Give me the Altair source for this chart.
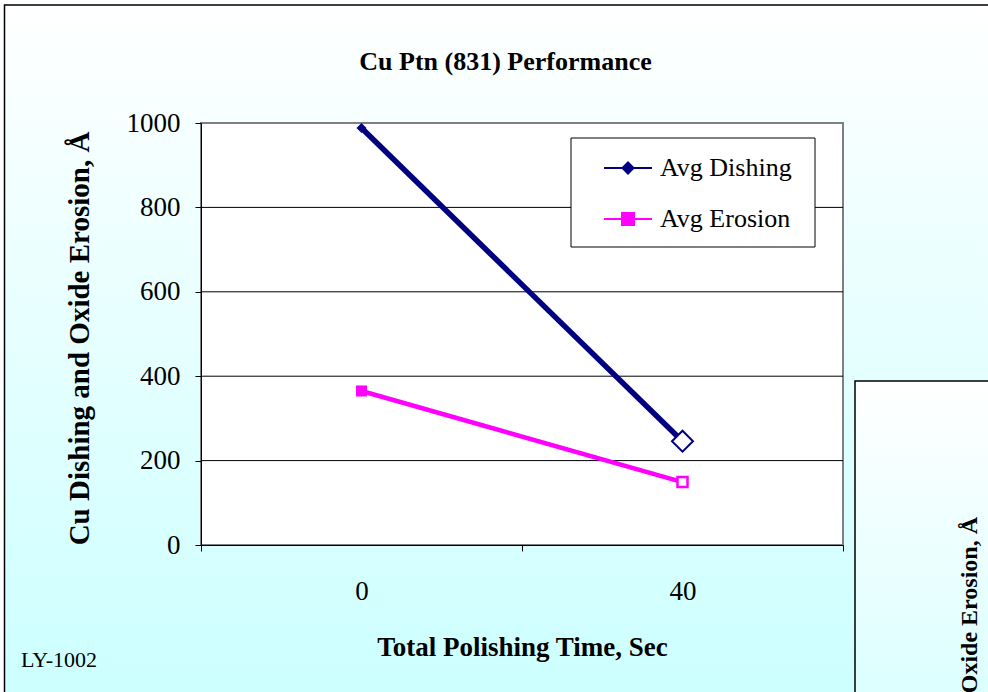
import altair as alt
import pandas as pd

# ---- data ----
times = [0, 40]
dishing = [988, 246]
erosion = [365, 149]
series_names = ["Avg Dishing", "Avg Erosion"]
y_ticks = [0, 200, 400, 600, 800, 1000]
grid_values = [200, 400, 600, 800]
x_tick_positions = [-20, 0, 20, 40, 60]
x_domain = [-20, 60]
y_domain = [0, 1000]

title_text = "Cu Ptn (831) Performance"
x_title = "Total Polishing Time, Sec"
y_title = "Cu Dishing and Oxide Erosion, Å"
footnote = "LY-1002"

# ---- styles ----
NAVY = "#000080"
MAGENTA = "#ff00ff"
series_colors = [NAVY, MAGENTA]
legend_paths = [
    "M-1,0L1,0M0,-0.23L0.23,0L0,0.23L-0.23,0Z",
    "M-1,0L1,0M-0.25,-0.25L0.25,-0.25L0.25,0.25L-0.25,0.25Z",
]
FONT = "Liberation Serif"
W, H = 642, 422

rows = []
for name, vals in zip(series_names, [dishing, erosion]):
    for t, v in zip(times, vals):
        rows.append({"time": t, "value": v, "series": name})
df = pd.DataFrame(rows)
grid_df = pd.DataFrame({"value": grid_values})
one = pd.DataFrame({"k": [0]})

xs = alt.Scale(domain=x_domain, nice=False, zero=False)
ys = alt.Scale(domain=y_domain, nice=False)

show_x = "datum.value == 0 || datum.value == 40"
x_axis = alt.Axis(
    values=x_tick_positions, grid=False, domainColor="black", tickColor="black",
    tickSize=6,
    tickOpacity={"condition": {"test": show_x, "value": 0}, "value": 1},
    labelExpr=f"({show_x}) ? datum.label : ''",
    labelFont=FONT, labelFontSize=27, labelColor="black", labelPadding=27,
    labelFlush=False, labelOverlap=False,
    title=x_title, titleFont=FONT, titleFontSize=27, titleFontWeight="bold",
    titleColor="black", titleX=321, titleY=110, titleBaseline="alphabetic",
    titleAlign="center", zindex=1,
)
y_axis = alt.Axis(
    values=y_ticks, format="d", grid=False, domainColor="black", tickColor="black", tickSize=6,
    labelFont=FONT, labelFontSize=27, labelColor="black", labelPadding=15,
    labelOverlap=False, labelFlush=False,
    title=y_title, titleFont=FONT, titleFontSize=29, titleFontWeight="bold",
    titleColor="black", titleAngle=270, titleX=-113, titleY=215,
    titleBaseline="alphabetic", titleAlign="center", zindex=1,
)

grad_main = alt.LinearGradient(
    gradient="linear",
    stops=[alt.GradientStop(offset=0, color="#ffffff"),
           alt.GradientStop(offset=1, color="#ccffff")],
    x1=0, x2=0, y1=0, y2=1,
)
grad_second = alt.LinearGradient(
    gradient="linear",
    stops=[alt.GradientStop(offset=0, color="#ffffff"),
           alt.GradientStop(offset=1, color="#dcffff")],
    x1=0, x2=0, y1=0, y2=1,
)

bg = alt.Chart(one).mark_rect(fill=grad_main, stroke="black", strokeWidth=1.5).encode(
    x=alt.value(-196.5), x2=alt.value(800), y=alt.value(-118), y2=alt.value(575)
)
bg2 = alt.Chart(one).mark_rect(fill=grad_second, stroke="black", strokeWidth=1.5).encode(
    x=alt.value(654), x2=alt.value(800), y=alt.value(258), y2=alt.value(575)
)
second_title = alt.Chart(one).mark_text(
    text=y_title, font=FONT, fontSize=24, fontWeight="bold", angle=270,
    align="right", baseline="alphabetic", color="black"
).encode(x=alt.value(776), y=alt.value(394))
main_title = alt.Chart(one).mark_text(
    text=title_text, font=FONT, fontSize=26, fontWeight="bold",
    align="center", baseline="alphabetic", color="black"
).encode(x=alt.value(304.5), y=alt.value(-53))
foot = alt.Chart(one).mark_text(
    text=footnote, font=FONT, fontSize=22, align="left",
    baseline="alphabetic", color="black"
).encode(x=alt.value(-180), y=alt.value(544))

plot_bg = alt.Chart(one).mark_rect(fill="white", stroke="#808080", strokeWidth=2).encode(
    x=alt.datum(x_domain[0]), x2=alt.datum(x_domain[1]),
    y=alt.datum(y_domain[0]), y2=alt.datum(y_domain[1]),
)
grid = alt.Chart(grid_df).mark_rule(color="black", strokeWidth=1).encode(
    y=alt.Y("value:Q", scale=ys),
    x=alt.datum(x_domain[0]), x2=alt.datum(x_domain[1]),
)

line_d = alt.Chart(df).transform_filter("datum.series == 'Avg Dishing'").mark_line(
    color=NAVY, strokeWidth=5.5
).encode(x=alt.X("time:Q", scale=xs, axis=x_axis), y=alt.Y("value:Q", scale=ys, axis=y_axis))
line_e = alt.Chart(df).transform_filter("datum.series == 'Avg Erosion'").mark_line(
    color=MAGENTA, strokeWidth=4.5
).encode(x="time:Q", y="value:Q")

# legend frame (box behind the legend entries)
legend_box = alt.Chart(one).mark_rect(fill="white", stroke="black", strokeWidth=1).encode(
    x=alt.value(370), x2=alt.value(614), y=alt.value(15), y2=alt.value(124)
)

legend = alt.Legend(
    orient="none", legendX=370, legendY=15, title=None,
    labelFont=FONT, labelFontSize=26, labelColor="black", labelOffset=7,
    labelLimit=400,
    symbolSize=2304, symbolStrokeWidth=2, symbolOffset=27, symbolOpacity=1,
    padding=5, rowPadding=13,
)
legend_layer = alt.Chart(df).transform_filter("datum.value < 0").mark_point(
    filled=True, opacity=1, size=2304, strokeWidth=2
).encode(
    x="time:Q", y="value:Q",
    color=alt.Color("series:N", scale=alt.Scale(domain=series_names, range=series_colors), legend=legend),
    stroke=alt.Stroke("series:N", scale=alt.Scale(domain=series_names, range=series_colors), legend=legend),
    shape=alt.Shape("series:N", scale=alt.Scale(domain=series_names, range=legend_paths), legend=legend),
)

def marker(series, t, **kw):
    return alt.Chart(df).transform_filter(
        f"datum.series == '{series}' && datum.time == {t}"
    ).mark_point(opacity=1, **kw).encode(x="time:Q", y="value:Q")

m1 = marker("Avg Dishing", 0, shape="diamond", filled=True, color=NAVY, size=100, strokeWidth=1)
m2 = marker("Avg Dishing", 40, shape="diamond", filled=True, fill="white", stroke=NAVY, strokeWidth=2, size=441)
m3 = marker("Avg Erosion", 0, shape="square", filled=True, color=MAGENTA, size=121, strokeWidth=1)
m4 = marker("Avg Erosion", 40, shape="square", filled=True, fill="white", stroke=MAGENTA, strokeWidth=2.5, size=100)

chart = alt.layer(
    bg, bg2, second_title, main_title, foot, plot_bg, grid,
    line_d, line_e, legend_box, legend_layer, m1, m2, m3, m4,
).properties(
    width=W, height=H,
    padding={"left": 201, "top": 123, "right": 145, "bottom": 147},
    autosize="none",
    background="#ffffff",
).configure_view(stroke=None)

chart.save("out.html", embed_options={"renderer": "svg", "actions": False})
